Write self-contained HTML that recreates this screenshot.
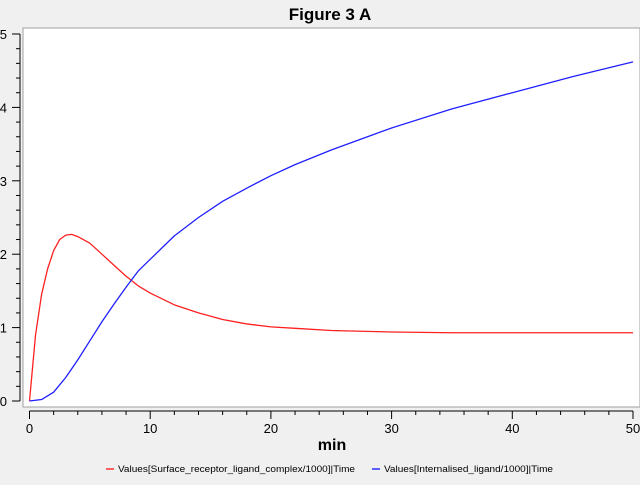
<!DOCTYPE html>
<html><head><meta charset="utf-8"><style>
body{margin:0;background:#f0f0f0;font-family:"Liberation Sans",sans-serif;}
</style></head><body>
<svg width="640" height="480" xmlns="http://www.w3.org/2000/svg">
<rect width="640" height="480" fill="#f0f0f0"/>
<text x="330" y="20" text-anchor="middle" font-size="17" font-weight="bold" font-family="Liberation Sans, sans-serif">Figure 3 A</text>
<rect x="23" y="28" width="617" height="379" fill="#fff" stroke="#a0a0a0"/>
<g id="axes"></g>
<g id="series"></g>
<text x="332" y="450" text-anchor="middle" font-size="16" font-weight="bold" font-family="Liberation Sans, sans-serif">min</text>
<g font-size="9" font-family="Liberation Sans, sans-serif">
<g><line x1="106" y1="469" x2="114" y2="469" stroke="#ff6060" stroke-width="2"/><text x="118" y="472" textLength="237" lengthAdjust="spacingAndGlyphs">Values[Surface_receptor_ligand_complex/1000]|Time</text></g>
<g><line x1="372" y1="469" x2="380" y2="469" stroke="#6060ff" stroke-width="2"/><text x="384" y="472" textLength="169" lengthAdjust="spacingAndGlyphs">Values[Internalised_ligand/1000]|Time</text></g>
</g>
</svg>
<script>
const xTicks=[0,10,20,30,40,50];
const yTicks=[0,1,2,3,4,5];
const redT=[0,0.5,1,1.5,2,2.5,3,3.5,4,5,6,7,8,9,10,12,14,16,18,20,22,25,30,35,40,50];
const redV=[0,0.9,1.45,1.8,2.05,2.2,2.26,2.27,2.24,2.15,2.0,1.85,1.7,1.57,1.47,1.31,1.2,1.11,1.05,1.01,0.99,0.96,0.94,0.93,0.93,0.93];
const blueT=[0,1,2,3,4,5,6,7,8,9,10,12,14,16,18,20,22,25,28,30,35,40,45,50];
const blueV=[0,0.02,0.12,0.32,0.56,0.82,1.08,1.32,1.55,1.77,1.93,2.25,2.5,2.72,2.9,3.07,3.22,3.42,3.6,3.72,3.98,4.2,4.42,4.62];
const NS="http://www.w3.org/2000/svg";
const xs=v=>29.5+v*12.07, ys=v=>401-v*73.4;
const ax=document.getElementById('axes');
function mk(t,a,p){const e=document.createElementNS(NS,t);for(const k in a)e.setAttribute(k,a[k]);(p||ax).appendChild(e);return e;}
const xa=mk('line',{x1:xs(0),y1:411,x2:xs(50),y2:411,stroke:'#000'});


const ya=mk('line',{x1:20,y1:ys(0),x2:20,y2:ys(5),stroke:'#000'});


for(let v=0;v<=50;v+=2){const m=v%10===0;mk('line',{x1:xs(v),y1:411,x2:xs(v),y2:m?419:415,stroke:'#000'});}
for(let i=0;i<=25;i++){const v=i*0.2;const m=i%5===0;mk('line',{x1:m?12:16,y1:ys(v),x2:20,y2:ys(v),stroke:'#000'});}
xTicks.forEach(v=>{const t=mk('text',{x:xs(v),y:433,'text-anchor':'middle','font-size':'13','font-family':'Liberation Sans, sans-serif'});t.textContent=v;

});
yTicks.forEach(v=>{const t=mk('text',{x:7,y:ys(v)+5,'text-anchor':'end','font-size':'13','font-family':'Liberation Sans, sans-serif'});t.textContent=v;

});
const sg=document.getElementById('series');
function line(T,V,c,n){const p=mk('polyline',{points:T.map((t,i)=>xs(t)+','+ys(V[i])).join(' '),fill:'none',stroke:c,'stroke-width':1.3,'stroke-linejoin':'round'},sg);

}
line(redT,redV,'#ff2020','series-surface-receptor-ligand-complex');
line(blueT,blueV,'#2020ff','series-internalised-ligand');
</script>
</body></html>
